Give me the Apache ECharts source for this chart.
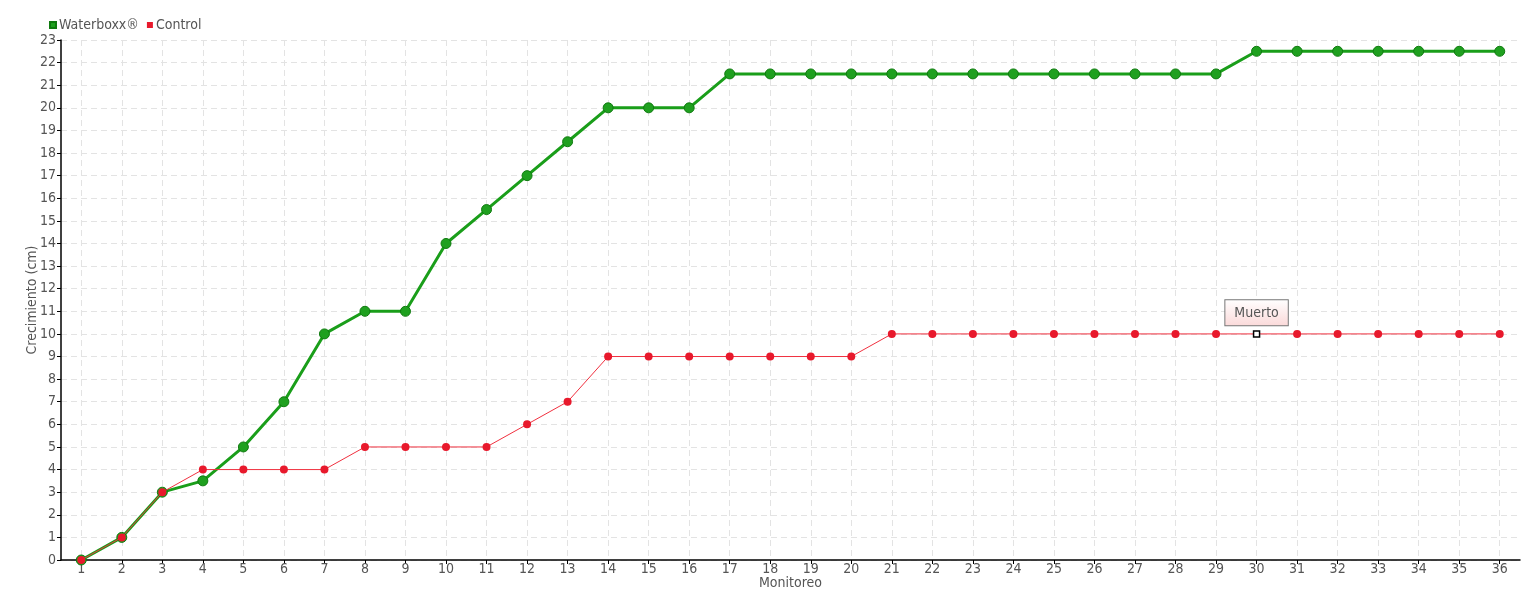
<!DOCTYPE html>
<html>
<head>
<meta charset="utf-8">
<script src="https://cdn.jsdelivr.net/npm/echarts@6/dist/echarts.min.js"></script>
<style>
  html, body { margin: 0; padding: 0; background: #fff; }
  #chart { width: 1540px; height: 600px; }
</style>
</head>
<body>
<div id="chart"></div>
<script>
// monitoreo 1..36
var monitoreo = ['1','2','3','4','5','6','7','8','9','10','11','12','13','14','15','16','17','18','19','20','21','22','23','24','25','26','27','28','29','30','31','32','33','34','35','36'];
var waterboxx = [0,1,3,3.5,5,7,10,11,11,14,15.5,17,18.5,20,20,20,21.5,21.5,21.5,21.5,21.5,21.5,21.5,21.5,21.5,21.5,21.5,21.5,21.5,22.5,22.5,22.5,22.5,22.5,22.5,22.5];
var control = [0,1,3,4,4,4,4,5,5,5,5,6,7,9,9,9,9,9,9,9,10,10,10,10,10,10,10,10,10,10,10,10,10,10,10,10];
var muertoAt = '30'; // monitoreo donde aparece "Muerto"

var FONT = "'DejaVu Sans Condensed', 'Liberation Sans Narrow', sans-serif";
var TXT = '#555';

// plot area
var L = 61, R = 20, W = 1540 - L - R;
var half = W / monitoreo.length / 2;

var chart = echarts.init(document.getElementById('chart'));

var ctData = control.map(function (v, i) {
  if (monitoreo[i] === muertoAt) {
    return {
      value: v,
      symbol: 'rect',
      symbolSize: 6,
      itemStyle: { color: '#fff', borderColor: '#000', borderWidth: 1.5 },
      label: {
        show: true,
        position: 'top',
        distance: 5,
        formatter: 'Muerto',
        fontFamily: FONT,
        fontSize: 14,
        color: '#555',
        padding: [6, 9, 5, 9],
        borderColor: '#777',
        borderWidth: 1,
        backgroundColor: {
          type: 'linear', x: 0, y: 0, x2: 0, y2: 1,
          colorStops: [{ offset: 0, color: '#ffffff' }, { offset: 1, color: '#fbd9d9' }]
        }
      }
    };
  }
  return v;
});

var dash = { color: '#e3e3e3', type: [6, 4] };

chart.setOption({
  animation: false,
  textStyle: { fontFamily: FONT },
  legend: {
    left: 44,
    top: 13,
    itemWidth: 6,
    itemHeight: 6,
    itemGap: 8,
    icon: 'rect',
    textStyle: { color: TXT, fontSize: 14, fontFamily: FONT, padding: [0, 0, 0, -2] },
    data: ['Waterboxx®', 'Control']
  },
  grid: [
    { left: L, right: R, top: 40, bottom: 40, outerBoundsMode: 'none' },
    // only used for the vertical grid lines through category centres
    { left: L + half, right: R + half, top: 40, bottom: 40, outerBoundsMode: 'none' }
  ],
  xAxis: [
    {
      type: 'category',
      gridIndex: 0,
      data: monitoreo,
      boundaryGap: true,
      name: 'Monitoreo',
      nameLocation: 'middle',
      nameGap: 16,
      nameMoveOverlap: false,
      nameTextStyle: { color: TXT, fontSize: 14, fontFamily: FONT },
      axisLine: { lineStyle: { color: '#000', width: 1.5 } },
      axisTick: { show: true, alignWithLabel: true, length: 4, lineStyle: { color: '#000' } },
      axisLabel: { color: TXT, fontSize: 14, fontFamily: FONT, margin: 2, interval: 0 },
      splitLine: { show: false }
    },
    {
      type: 'value',
      gridIndex: 1,
      min: 1,
      max: 36,
      interval: 1,
      axisLine: { show: false },
      axisTick: { show: false },
      axisLabel: { show: false },
      splitLine: { show: true, lineStyle: dash }
    }
  ],
  yAxis: [
    {
      type: 'value',
      gridIndex: 0,
      min: 0,
      max: 23,
      interval: 1,
      name: 'Crecimiento (cm)',
      nameLocation: 'middle',
      nameGap: 22,
      nameMoveOverlap: false,
      nameTextStyle: { color: TXT, fontSize: 14, fontFamily: FONT },
      axisLine: { show: true, lineStyle: { color: '#000', width: 1.5 } },
      axisTick: { show: true, length: 4, lineStyle: { color: '#000' } },
      axisLabel: { color: TXT, fontSize: 14, fontFamily: FONT, margin: 5 },
      splitLine: { show: true, lineStyle: dash }
    },
    {
      type: 'value',
      gridIndex: 1,
      min: 0,
      max: 23,
      show: false,
      splitLine: { show: false }
    }
  ],
  series: [
    {
      name: 'Waterboxx®',
      type: 'line',
      data: waterboxx,
      color: '#1fa01f',
      symbol: 'circle',
      symbolSize: 10,
      lineStyle: { width: 3, color: '#1a9e1a' },
      itemStyle: { color: '#1fa01f', borderColor: '#0f7a0f', borderWidth: 1 },
      z: 2
    },
    {
      name: 'Control',
      type: 'line',
      data: ctData,
      color: '#e8192c',
      symbol: 'circle',
      symbolSize: 8,
      lineStyle: { width: 1, color: '#f0303f' },
      itemStyle: { color: '#e8192c' },
      z: 3
    }
  ]
});
</script>
</body>
</html>
